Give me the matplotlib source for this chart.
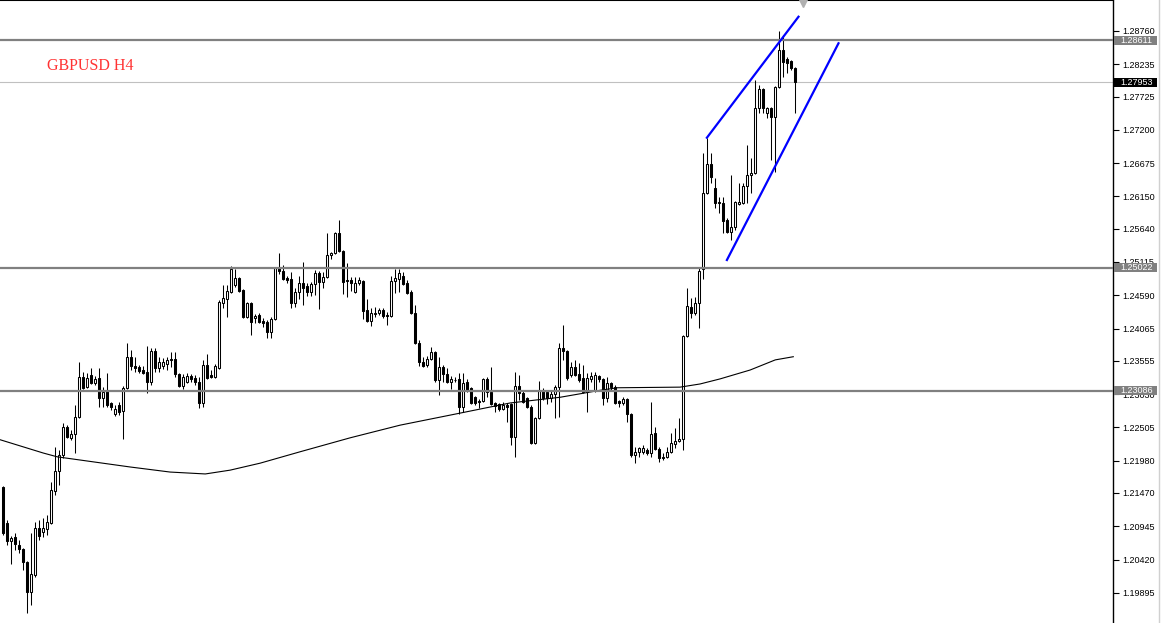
import matplotlib
matplotlib.use("Agg")
import matplotlib.pyplot as plt
import matplotlib.transforms as mtransforms
from matplotlib.patches import Rectangle
from matplotlib.lines import Line2D

# GBPUSD H4 candles, oldest first (prices)
opens = [
    1.2156, 1.2100, 1.2071, 1.2078, 1.2065, 1.2059, 1.2038, 1.1991, 1.2018, 1.2092,
    1.2085, 1.2090, 1.2100, 1.2150, 1.2182, 1.2207, 1.2251, 1.2234, 1.2240, 1.2267,
    1.2330, 1.2314, 1.2333, 1.2321, 1.2328, 1.2297, 1.2308, 1.2289, 1.2272, 1.2286,
    1.2276, 1.2313, 1.2362, 1.2347, 1.2346, 1.2341, 1.2338, 1.2322, 1.2371, 1.2344,
    1.2347, 1.2351, 1.2358, 1.2358, 1.2335, 1.2316, 1.2322, 1.2332, 1.2328, 1.2322,
    1.2289, 1.2349, 1.2333, 1.2330, 1.2344, 1.2447, 1.2453, 1.2464, 1.2475, 1.2486,
    1.2467, 1.2425, 1.2447, 1.2423, 1.2428, 1.2418, 1.2417, 1.2401, 1.2422, 1.2502,
    1.2497, 1.2486, 1.2485, 1.2447, 1.2464, 1.2478, 1.2474, 1.2464, 1.2477, 1.2494,
    1.2480, 1.2488, 1.2523, 1.2526, 1.2557, 1.2529, 1.2483, 1.2483, 1.2464, 1.2478,
    1.2481, 1.2436, 1.2418, 1.2429, 1.2431, 1.2436, 1.2428, 1.2426, 1.2481, 1.2485,
    1.2489, 1.2478, 1.2464, 1.2431, 1.2384, 1.2354, 1.2349, 1.2358, 1.2369, 1.2325,
    1.2346, 1.2335, 1.2322, 1.2326, 1.2327, 1.2283, 1.2322, 1.2313, 1.2298, 1.2292,
    1.2292, 1.2327, 1.2306, 1.2289, 1.2287, 1.2280, 1.2286, 1.2287, 1.2235, 1.2316,
    1.2305, 1.2297, 1.2283, 1.2226, 1.2265, 1.2308, 1.2306, 1.2297, 1.2303, 1.2314,
    1.2376, 1.2371, 1.2333, 1.2346, 1.2335, 1.2328, 1.2306, 1.2327, 1.2309, 1.2332,
    1.2327, 1.2297, 1.2321, 1.2314, 1.2292, 1.2289, 1.2295, 1.2272, 1.2207, 1.2212,
    1.2212, 1.2215, 1.2210, 1.2242, 1.2216, 1.2204, 1.2204, 1.2212, 1.2224, 1.2229,
    1.2232, 1.2395, 1.2440, 1.2431, 1.2447, 1.2500, 1.2620, 1.2666, 1.2628, 1.2606,
    1.2605, 1.2578, 1.2559, 1.2567, 1.2603, 1.2605, 1.2631, 1.2649, 1.2652, 1.2754,
    1.2784, 1.2747, 1.2754, 1.2740, 1.2788, 1.2846, 1.2832, 1.2829, 1.2818,
]
highs = [
    1.2158, 1.2104, 1.2079, 1.2084, 1.2073, 1.2060, 1.2040, 1.2084, 1.2101, 1.2104,
    1.2107, 1.2112, 1.2164, 1.2220, 1.2215, 1.2257, 1.2254, 1.2246, 1.2286, 1.2354,
    1.2338, 1.2336, 1.2344, 1.2332, 1.2344, 1.2314, 1.2336, 1.2291, 1.2286, 1.2291,
    1.2316, 1.2384, 1.2373, 1.2362, 1.2349, 1.2347, 1.2379, 1.2376, 1.2376, 1.2362,
    1.2360, 1.2362, 1.2369, 1.2369, 1.2336, 1.2335, 1.2336, 1.2335, 1.2333, 1.2330,
    1.2357, 1.2366, 1.2341, 1.2351, 1.2452, 1.2475, 1.2475, 1.2505, 1.2500, 1.2488,
    1.2469, 1.2448, 1.2448, 1.2429, 1.2431, 1.2423, 1.2420, 1.2425, 1.2504, 1.2526,
    1.2507, 1.2489, 1.2496, 1.2470, 1.2489, 1.2511, 1.2478, 1.2480, 1.2499, 1.2497,
    1.2496, 1.2557, 1.2527, 1.2559, 1.2578, 1.2530, 1.2510, 1.2488, 1.2488, 1.2488,
    1.2483, 1.2453, 1.2439, 1.2440, 1.2439, 1.2439, 1.2433, 1.2489, 1.2500, 1.2500,
    1.2496, 1.2483, 1.2467, 1.2444, 1.2388, 1.2362, 1.2363, 1.2377, 1.2371, 1.2362,
    1.2349, 1.2344, 1.2332, 1.2330, 1.2336, 1.2336, 1.2327, 1.2314, 1.2300, 1.2295,
    1.2328, 1.2330, 1.2346, 1.2291, 1.2289, 1.2291, 1.2289, 1.2289, 1.2338, 1.2333,
    1.2309, 1.2298, 1.2286, 1.2267, 1.2324, 1.2313, 1.2309, 1.2309, 1.2317, 1.2384,
    1.2412, 1.2373, 1.2354, 1.2357, 1.2352, 1.2349, 1.2336, 1.2338, 1.2338, 1.2333,
    1.2328, 1.2330, 1.2322, 1.2317, 1.2294, 1.2298, 1.2297, 1.2273, 1.2220, 1.2220,
    1.2223, 1.2218, 1.2291, 1.2251, 1.2220, 1.2210, 1.2220, 1.2242, 1.2250, 1.2265,
    1.2396, 1.2470, 1.2455, 1.2456, 1.2502, 1.2683, 1.2707, 1.2683, 1.2644, 1.2614,
    1.2614, 1.2581, 1.2649, 1.2608, 1.2636, 1.2636, 1.2696, 1.2676, 1.2799, 1.2791,
    1.2786, 1.2756, 1.2756, 1.2789, 1.2876, 1.2870, 1.2835, 1.2830, 1.2819,
]
lows = [
    1.2081, 1.2065, 1.2035, 1.2057, 1.2052, 1.2025, 1.1958, 1.1970, 1.2014, 1.2073,
    1.2078, 1.2081, 1.2098, 1.2144, 1.2160, 1.2202, 1.2234, 1.2231, 1.2210, 1.2265,
    1.2311, 1.2313, 1.2319, 1.2317, 1.2283, 1.2283, 1.2283, 1.2278, 1.2268, 1.2270,
    1.2232, 1.2311, 1.2341, 1.2338, 1.2336, 1.2335, 1.2305, 1.2317, 1.2338, 1.2338,
    1.2343, 1.2341, 1.2346, 1.2330, 1.2314, 1.2311, 1.2321, 1.2322, 1.2317, 1.2281,
    1.2283, 1.2327, 1.2328, 1.2328, 1.2343, 1.2439, 1.2425, 1.2463, 1.2472, 1.2464,
    1.2423, 1.2423, 1.2396, 1.2415, 1.2415, 1.2409, 1.2392, 1.2392, 1.2420, 1.2493,
    1.2483, 1.2478, 1.2439, 1.2440, 1.2453, 1.2444, 1.2458, 1.2458, 1.2459, 1.2437,
    1.2470, 1.2486, 1.2516, 1.2524, 1.2527, 1.2461, 1.2456, 1.2466, 1.2463, 1.2475,
    1.2422, 1.2417, 1.2410, 1.2425, 1.2428, 1.2423, 1.2412, 1.2425, 1.2463, 1.2464,
    1.2475, 1.2461, 1.2429, 1.2382, 1.2347, 1.2346, 1.2346, 1.2357, 1.2322, 1.2302,
    1.2322, 1.2321, 1.2311, 1.2322, 1.2272, 1.2275, 1.2306, 1.2287, 1.2286, 1.2281,
    1.2291, 1.2298, 1.2286, 1.2275, 1.2276, 1.2278, 1.2259, 1.2223, 1.2204, 1.2294,
    1.2289, 1.2281, 1.2224, 1.2224, 1.2264, 1.2294, 1.2287, 1.2291, 1.2265, 1.2267,
    1.2357, 1.2325, 1.2330, 1.2332, 1.2322, 1.2305, 1.2275, 1.2322, 1.2306, 1.2322,
    1.2286, 1.2291, 1.2309, 1.2287, 1.2283, 1.2286, 1.2259, 1.2204, 1.2194, 1.2204,
    1.2208, 1.2207, 1.2204, 1.2215, 1.2196, 1.2199, 1.2202, 1.2210, 1.2218, 1.2227,
    1.2215, 1.2393, 1.2423, 1.2428, 1.2407, 1.2485, 1.2619, 1.2636, 1.2597, 1.2589,
    1.2557, 1.2557, 1.2546, 1.2562, 1.2601, 1.2603, 1.2605, 1.2620, 1.2650, 1.2747,
    1.2747, 1.2739, 1.2672, 1.2653, 1.2786, 1.2803, 1.2810, 1.2814, 1.2747,
]
closes = [
    1.2084, 1.2071, 1.2076, 1.2066, 1.2059, 1.2038, 1.1991, 1.2019, 1.2092, 1.2079,
    1.2092, 1.2101, 1.2152, 1.2182, 1.2207, 1.2251, 1.2235, 1.2240, 1.2267, 1.2330,
    1.2313, 1.2328, 1.2321, 1.2327, 1.2297, 1.2306, 1.2286, 1.2283, 1.2280, 1.2275,
    1.2313, 1.2362, 1.2347, 1.2344, 1.2339, 1.2336, 1.2322, 1.2371, 1.2344, 1.2354,
    1.2354, 1.2357, 1.2357, 1.2335, 1.2316, 1.2330, 1.2332, 1.2327, 1.2322, 1.2289,
    1.2349, 1.2328, 1.2330, 1.2347, 1.2448, 1.2455, 1.2466, 1.2500, 1.2486, 1.2466,
    1.2425, 1.2447, 1.2417, 1.2426, 1.2417, 1.2415, 1.2401, 1.2422, 1.2502, 1.2497,
    1.2485, 1.2483, 1.2447, 1.2464, 1.2478, 1.2470, 1.2464, 1.2477, 1.2494, 1.2480,
    1.2488, 1.2523, 1.2526, 1.2557, 1.2529, 1.2480, 1.2481, 1.2478, 1.2478, 1.2483,
    1.2434, 1.2418, 1.2431, 1.2431, 1.2436, 1.2426, 1.2427, 1.2481, 1.2486, 1.2494,
    1.2477, 1.2463, 1.2431, 1.2384, 1.2354, 1.2347, 1.2358, 1.2369, 1.2325, 1.2346,
    1.2335, 1.2322, 1.2327, 1.2325, 1.2283, 1.2321, 1.2309, 1.2289, 1.2289, 1.2291,
    1.2327, 1.2306, 1.2287, 1.2284, 1.2280, 1.2286, 1.2283, 1.2235, 1.2316, 1.2305,
    1.2291, 1.2283, 1.2226, 1.2265, 1.2308, 1.2297, 1.2297, 1.2303, 1.2314, 1.2376,
    1.2371, 1.2328, 1.2346, 1.2333, 1.2325, 1.2306, 1.2328, 1.2332, 1.2333, 1.2327,
    1.2297, 1.2321, 1.2314, 1.2289, 1.2289, 1.2295, 1.2272, 1.2207, 1.2212, 1.2218,
    1.2218, 1.2210, 1.2240, 1.2216, 1.2202, 1.2202, 1.2212, 1.2226, 1.2229, 1.2232,
    1.2395, 1.2442, 1.2431, 1.2447, 1.2497, 1.2620, 1.2666, 1.2646, 1.2605, 1.2605,
    1.2576, 1.2559, 1.2567, 1.2606, 1.2606, 1.2631, 1.2649, 1.2652, 1.2754, 1.2784,
    1.2754, 1.2754, 1.2740, 1.2788, 1.2846, 1.2827, 1.2825, 1.2818, 1.27953,
]

# slow moving average (vertices, candle index / price)
ma_idx = [-0.6, 10.2, 13.7, 31.9, 41.9, 50.7, 56.9, 64.4, 74.4, 86.9, 99.4,
          114.4, 126.9, 139.4, 149.4, 153.7, 169.4, 174.4, 179.4, 186.9, 193.2, 197.7]
ma_vals = [1.2231, 1.2210, 1.2204, 1.2188, 1.2180, 1.2177, 1.2183, 1.2194, 1.2212,
           1.2234, 1.2254, 1.2273, 1.2289, 1.2298, 1.2309, 1.2313, 1.2314, 1.2319,
           1.2327, 1.2341, 1.2357, 1.2362]

# horizontal levels and the rising channel
levels = [1.28611, 1.25022, 1.23086]
bid = 1.27953
channel_upper = ([176.1, 199.0], [1.27076, 1.28985])
channel_lower = ([181.1, 209.0], [1.25146, 1.28566])

tick_vals = [1.28760, 1.28235, 1.27725, 1.27200, 1.26675, 1.26150, 1.25640,
             1.25115, 1.24590, 1.24065, 1.23555, 1.23030, 1.22505, 1.21980,
             1.21470, 1.20945, 1.20420, 1.19895]
cut_tick = 1.19370

W, H = 1161, 623
fig = plt.figure(figsize=(W / 100, H / 100), dpi=100)
fig.patch.set_facecolor('white')
ax = fig.add_axes([0, 0, 1113 / W, 1])

n = len(closes)
idx = list(range(n))

# wicks then bodies
ax.vlines(idx, lows, highs, color='black', lw=0.75, zorder=2)
bottoms = [min(o, c) for o, c in zip(opens, closes)]
heights = [abs(c - o) for o, c in zip(opens, closes)]
faces = ['white' if c >= o else 'black' for o, c in zip(opens, closes)]
ax.bar(idx, heights, bottom=bottoms, width=0.5, color=faces,
       edgecolor='black', linewidth=0.75, zorder=3)

ax.plot(ma_idx, ma_vals, color='black', lw=0.8, zorder=4)

for lv in levels:
    ax.axhline(lv, color='#808080', lw=1.6, zorder=4)
ax.axhline(bid, color='#c0c0c0', lw=0.8, zorder=1)

ax.plot(*channel_upper, color='#0000ff', lw=1.6, zorder=5)
ax.plot(*channel_lower, color='#0000ff', lw=1.6, zorder=5)

ax.set_xlim(-0.625, 277.625)
ax.set_ylim(1.19418, 1.29249)

ax.set_xticks([])
ax.yaxis.tick_right()
ax.set_yticks(tick_vals)
ax.set_yticklabels(['%.5f' % t for t in tick_vals])
ax.tick_params(axis='y', direction='out', length=4, width=0.8, pad=3,
               labelsize=6.5, colors='black')
for lab in ax.get_yticklabels():
    lab.set_fontfamily('Liberation Sans')

for side in ['left', 'bottom']:
    ax.spines[side].set_visible(False)
ax.spines['right'].set_linewidth(1.0)
ax.spines['top'].set_linewidth(1.5)

trans = mtransforms.blended_transform_factory(ax.transAxes, ax.transData)
px = 1.0 / 1113
# half-cut tick label at the bottom edge
ax.text(1 + 7 * px, cut_tick, '%.5f' % cut_tick, transform=trans, fontsize=6.5,
        fontfamily='Liberation Sans', va='center', ha='left', clip_on=False)

# price tags on the right axis
box_h = 9 * (1.29249 - 1.19418) / H
for val, col in [(levels[0], '#808080'), (levels[1], '#808080'),
                 (levels[2], '#808080'), (bid, 'black')]:
    ax.add_patch(Rectangle((1 + 1 * px, val - box_h / 2), 43 * px, box_h,
                           transform=trans, facecolor=col, edgecolor='none',
                           clip_on=False, zorder=6))
    ax.text(1 + 7 * px, val, '%.5f' % val, transform=trans, fontsize=6.5,
            fontfamily='Liberation Sans', color='white', va='center',
            ha='left', clip_on=False, zorder=7)

ax.text(47 / 1113, 1 - 66 / H, 'GBPUSD H4', transform=ax.transAxes,
        fontfamily='Liberation Serif', fontsize=11.5, color='#ff3333',
        va='center', ha='left')

# chart shift marker
ax.plot([802.5 / 1113], [1 - 3 / H], marker='v', color='#b0b0b0', ms=6,
        transform=ax.transAxes, clip_on=False, zorder=6)

fig.add_artist(Line2D([1158.5 / W] * 2, [0, 1], color='#d0d0d0', lw=1.0))

fig.savefig('out.png', dpi=100)
